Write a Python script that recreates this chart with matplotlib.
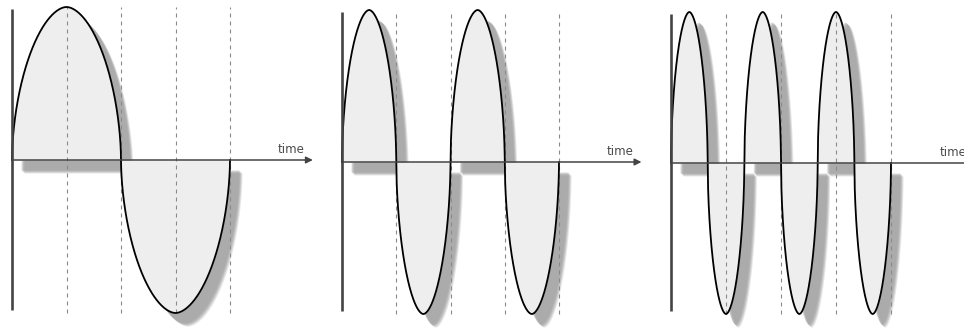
import numpy as np
import matplotlib
matplotlib.use("Agg")
import matplotlib.pyplot as plt
from matplotlib.transforms import ScaledTranslation

# nombre de cycles par panneau
cycles = [1, 2, 3]
# positions des lignes pointillées (fraction de la durée totale)
marks = [0.25, 0.5, 0.75, 1.0]
axis_label = "time"

# placement des panneaux (pixels)
origin_x = [12, 342, 671]
origin_y = [160, 162, 163]
span = [218, 217, 220]
amp = [153, 152, 151]

W, H = 964, 334
fig = plt.figure(figsize=(W / 100, H / 100), dpi=100)


def lobes(n, p=1.8):
    # demi-lobes alternés (haut / bas), forme proche d'une ellipse
    phi = np.linspace(0, np.pi, 400)
    c = np.cos(phi)
    u = -np.sign(c) * np.abs(c) ** (2 / p)
    h = np.sin(phi) ** (2 / p)
    xs, ys = [], []
    for j in range(2 * n):
        xs.append((j + (1 + u) / 2) / (2 * n))
        ys.append((-1) ** j * h)
    return np.concatenate(xs), np.concatenate(ys)


for i, n in enumerate(cycles):
    ox, oy, sx, a = origin_x[i], origin_y[i], span[i], amp[i]
    ax = fig.add_axes([(ox - 20) / W, 0, 330 / W, 1])
    ax.set_xlim(-20 / sx, 310 / sx)
    ax.set_ylim((oy - H) / a, oy / a)
    ax.axis("off")
    ax.patch.set_alpha(0)

    t, y = lobes(n)

    # ombre portée (décalée en bas à droite), un peu floue
    for dx, dy, al in [(12, 13, 0.25), (11, 12, 0.35), (10, 11, 0.4), (9, 10, 0.35)]:
        tr = ax.transData + ScaledTranslation(dx / 100, -dy / 100, fig.dpi_scale_trans)
        ax.fill_between(t, y, 0, color="#999999", alpha=al, lw=0, transform=tr)

    ax.fill_between(t, y, 0, color="#eeeeee", lw=0)

    for m in marks:
        ax.plot([m, m], [-1.0, 1.0], color="#8a8a8a", lw=0.8,
                linestyle=(0, (3.6, 3.6)))

    ax.plot(t, y, color="black", lw=1.3)

    # axes
    ax.plot([0, 0], [-0.98, 0.99], color="#444444", lw=1.9, solid_capstyle="butt")
    ax.annotate("", xy=(1.38, 0), xytext=(0, 0),
                arrowprops=dict(arrowstyle="-|>", color="#444444", lw=1.1,
                                mutation_scale=10, shrinkA=0, shrinkB=0))
    ax.text(1.28, 0.045, axis_label, ha="center", va="baseline",
            fontsize=8.5, color="#4a4a4a")

fig.savefig("out.png", dpi=100)
